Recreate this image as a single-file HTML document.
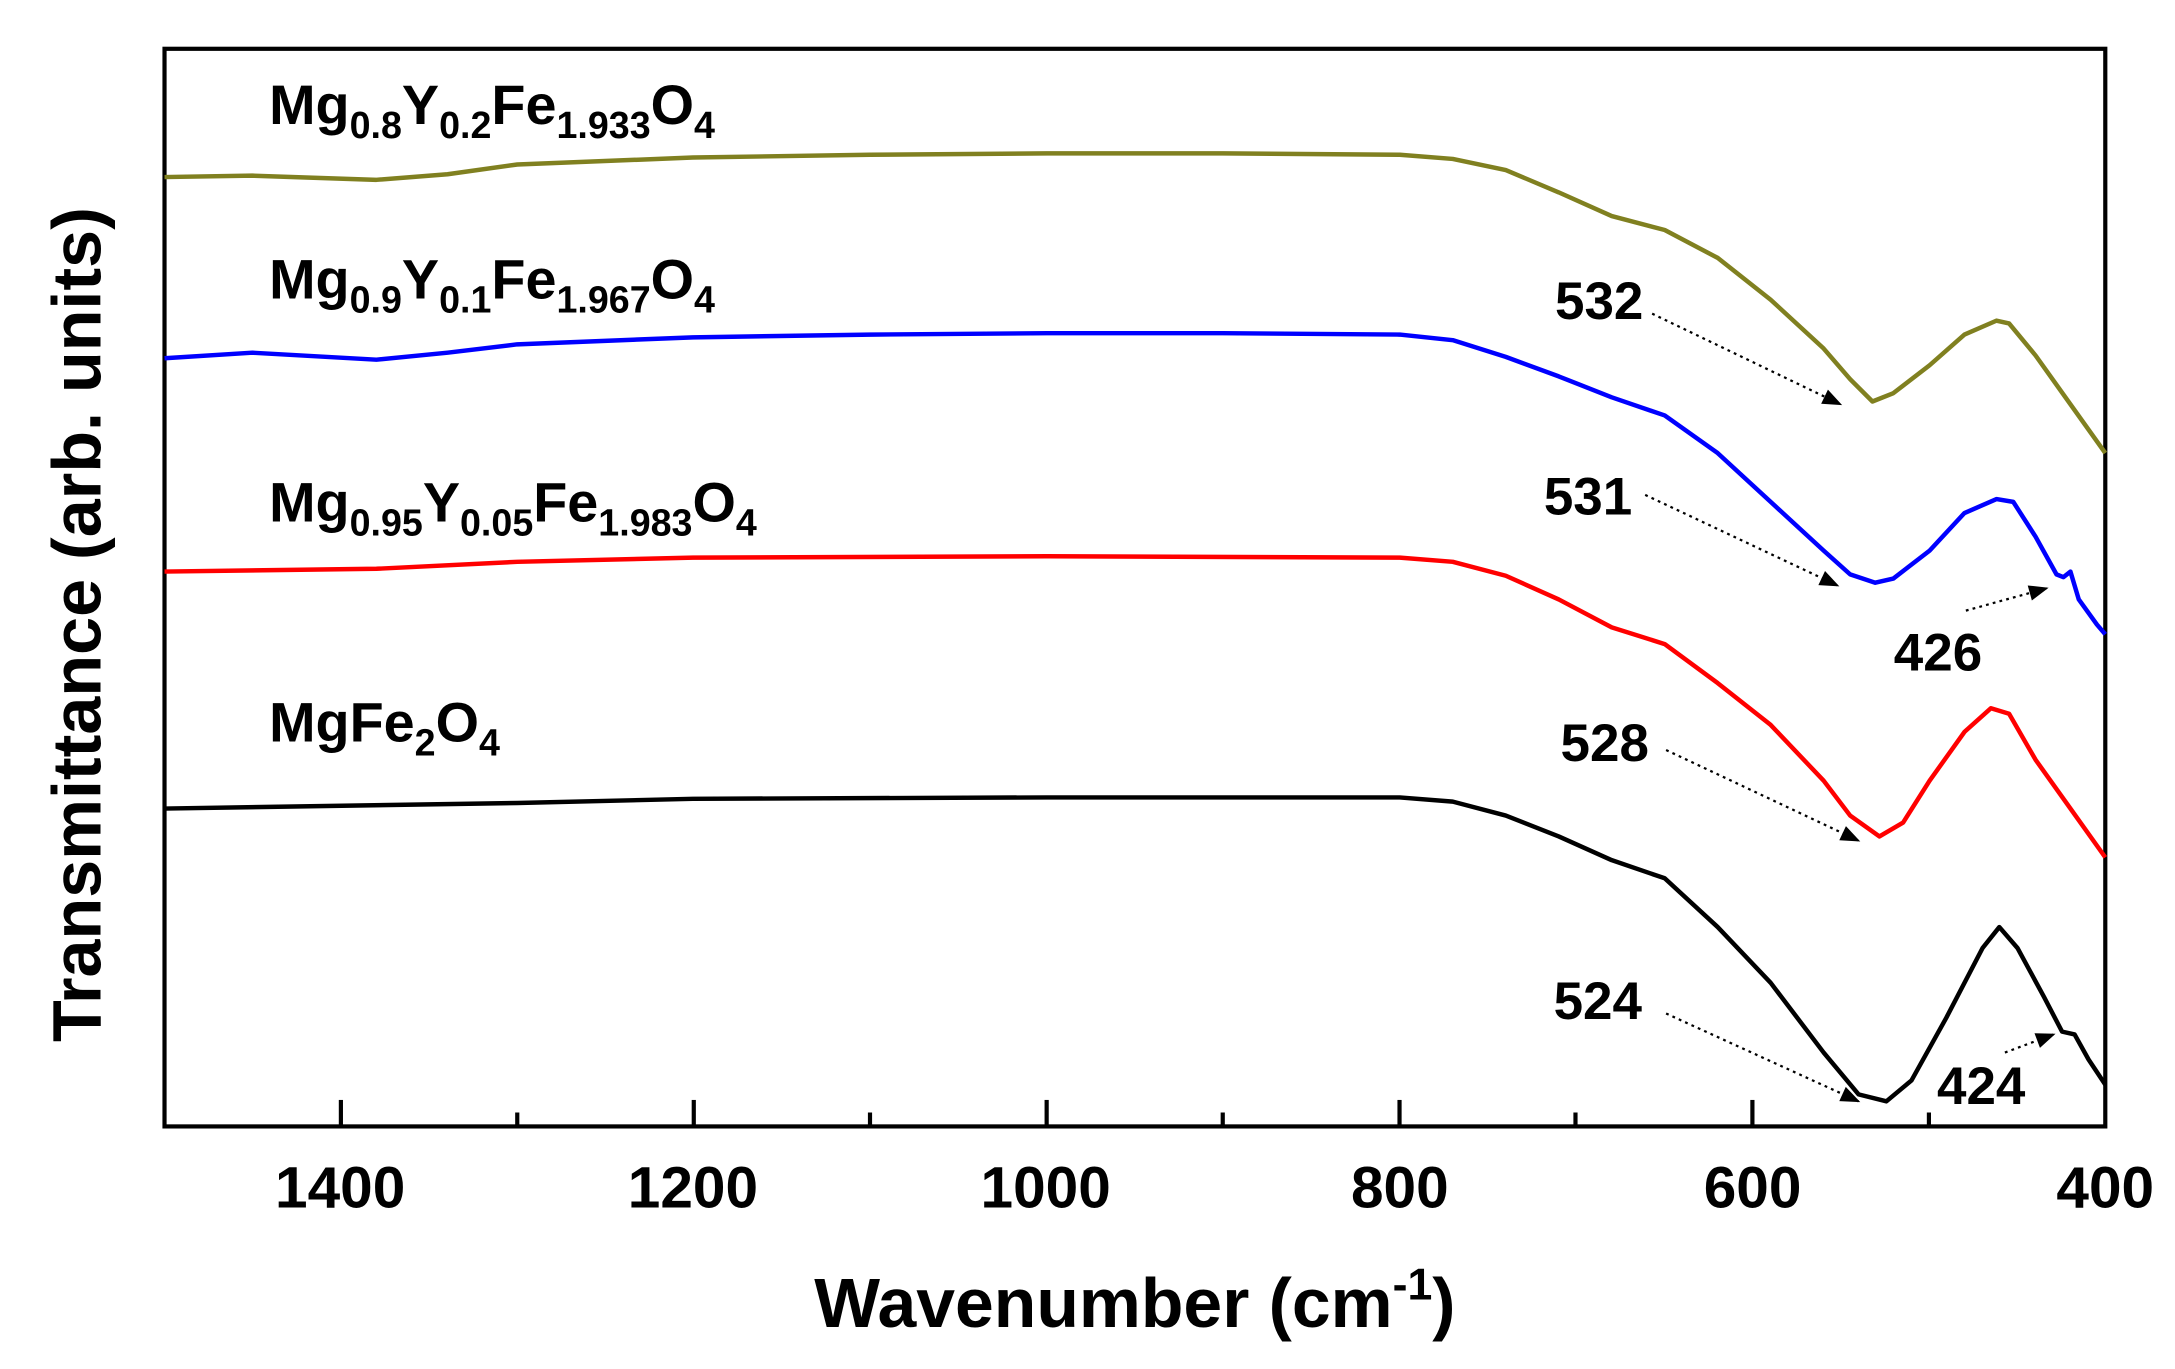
<!DOCTYPE html>
<html><head><meta charset="utf-8"><style>
html,body{margin:0;padding:0;background:#fff}
svg{display:block}
text{font-family:"Liberation Sans",Arial,sans-serif;font-weight:bold;fill:#000}
</style></head><body>
<svg width="2175" height="1369" viewBox="0 0 1560 982" preserveAspectRatio="none" xmlns="http://www.w3.org/2000/svg">
<defs>
<marker id="ah2" viewBox="0 0 10 10" refX="9" refY="5" markerWidth="22" markerHeight="14" orient="auto" markerUnits="userSpaceOnUse">
<path d="M0,1 L10,5 L0,9 z" fill="#000"/>
</marker>
</defs>
<rect x="118" y="35" width="1392" height="773" fill="none" stroke="#000" stroke-width="3"/>
<g stroke="#000" stroke-width="3">
<line x1="244.5" y1="808" x2="244.5" y2="789"/><line x1="497.6" y1="808" x2="497.6" y2="789"/>
<line x1="750.7" y1="808" x2="750.7" y2="789"/><line x1="1003.8" y1="808" x2="1003.8" y2="789"/>
<line x1="1256.9" y1="808" x2="1256.9" y2="789"/>
<line x1="371" y1="808" x2="371" y2="798"/><line x1="624" y1="808" x2="624" y2="798"/>
<line x1="877" y1="808" x2="877" y2="798"/><line x1="1130" y1="808" x2="1130" y2="798"/>
<line x1="1383.5" y1="808" x2="1383.5" y2="798"/>
</g>
<g font-size="42" text-anchor="middle">
<text x="244" y="866">1400</text><text x="497" y="866">1200</text><text x="750" y="866">1000</text>
<text x="1004" y="866">800</text><text x="1257" y="866">600</text><text x="1510" y="866">400</text>
</g>
<text x="814" y="952" font-size="50" text-anchor="middle">Wavenumber (cm<tspan font-size="32" dy="-20">-1</tspan><tspan dy="20">)</tspan></text>
<text transform="translate(72,448) rotate(-90)" font-size="49" text-anchor="middle">Transmittance (arb. units)</text>
<g fill="none" stroke-width="3.2" stroke-linejoin="round">
<polyline stroke="#808020" points="118,127 181,126 270,129 321,125 371,118 497,113 624,111 751,110 877,110 1004,111 1042,114 1080,122 1118,138 1156,155 1194,165 1232,185 1270,215 1308,250 1327,272 1343,288 1358,282 1384,262 1409,240 1432,230 1441,232 1460,255 1485,290 1510,325"/>
<polyline stroke="#0000ff" points="118,257 181,253 270,258 321,253 371,247 497,242 624,240 751,239 877,239 1004,240 1042,244 1080,256 1118,270 1156,285 1194,298 1232,325 1270,360 1308,395 1327,412 1345,418 1358,415 1384,395 1409,368 1432,358 1444,360 1460,385 1475,412 1480,414 1485,410 1491,430 1504,448 1510,455"/>
<polyline stroke="#ff0000" points="118,410 270,408 371,403 497,400 751,399 1004,400 1042,403 1080,413 1118,430 1156,450 1194,462 1232,490 1270,520 1308,560 1327,585 1348,600 1365,590 1384,560 1409,525 1428,508 1441,512 1460,545 1485,580 1510,615"/>
<polyline stroke="#000" points="118,580 371,576 497,573 751,572 1004,572 1042,575 1080,585 1118,600 1156,617 1194,630 1232,665 1270,705 1308,755 1333,785 1353,790 1371,775 1396,730 1422,680 1434,665 1447,680 1466,715 1479,740 1488,742 1498,760 1510,778"/>
</g>
<g stroke="#000" stroke-width="1.6" stroke-dasharray="2,3" fill="none" marker-end="url(#ah2)">
<line x1="1185" y1="225" x2="1320" y2="290"/>
<line x1="1180" y1="355" x2="1318" y2="420"/>
<line x1="1410" y1="438" x2="1468" y2="422"/>
<line x1="1195" y1="538" x2="1333" y2="603"/>
<line x1="1195" y1="727" x2="1333" y2="790"/>
<line x1="1438" y1="755" x2="1473" y2="742"/>
</g>
<g font-size="38" text-anchor="middle">
<text x="1147" y="229">532</text><text x="1139" y="369">531</text><text x="1390" y="481">426</text>
<text x="1151" y="546">528</text><text x="1146" y="731">524</text><text x="1421" y="792">424</text>
</g>
<g font-size="40">
<text x="193" y="89">Mg<tspan font-size="27" dy="10">0.8</tspan><tspan dy="-10">Y</tspan><tspan font-size="27" dy="10">0.2</tspan><tspan dy="-10">Fe</tspan><tspan font-size="27" dy="10">1.933</tspan><tspan dy="-10">O</tspan><tspan font-size="27" dy="10">4</tspan></text>
<text x="193" y="214">Mg<tspan font-size="27" dy="10">0.9</tspan><tspan dy="-10">Y</tspan><tspan font-size="27" dy="10">0.1</tspan><tspan dy="-10">Fe</tspan><tspan font-size="27" dy="10">1.967</tspan><tspan dy="-10">O</tspan><tspan font-size="27" dy="10">4</tspan></text>
<text x="193" y="374">Mg<tspan font-size="27" dy="10">0.95</tspan><tspan dy="-10">Y</tspan><tspan font-size="27" dy="10">0.05</tspan><tspan dy="-10">Fe</tspan><tspan font-size="27" dy="10">1.983</tspan><tspan dy="-10">O</tspan><tspan font-size="27" dy="10">4</tspan></text>
<text x="193" y="532">MgFe<tspan font-size="27" dy="10">2</tspan><tspan dy="-10">O</tspan><tspan font-size="27" dy="10">4</tspan></text>
</g>
</svg>
</body></html>
